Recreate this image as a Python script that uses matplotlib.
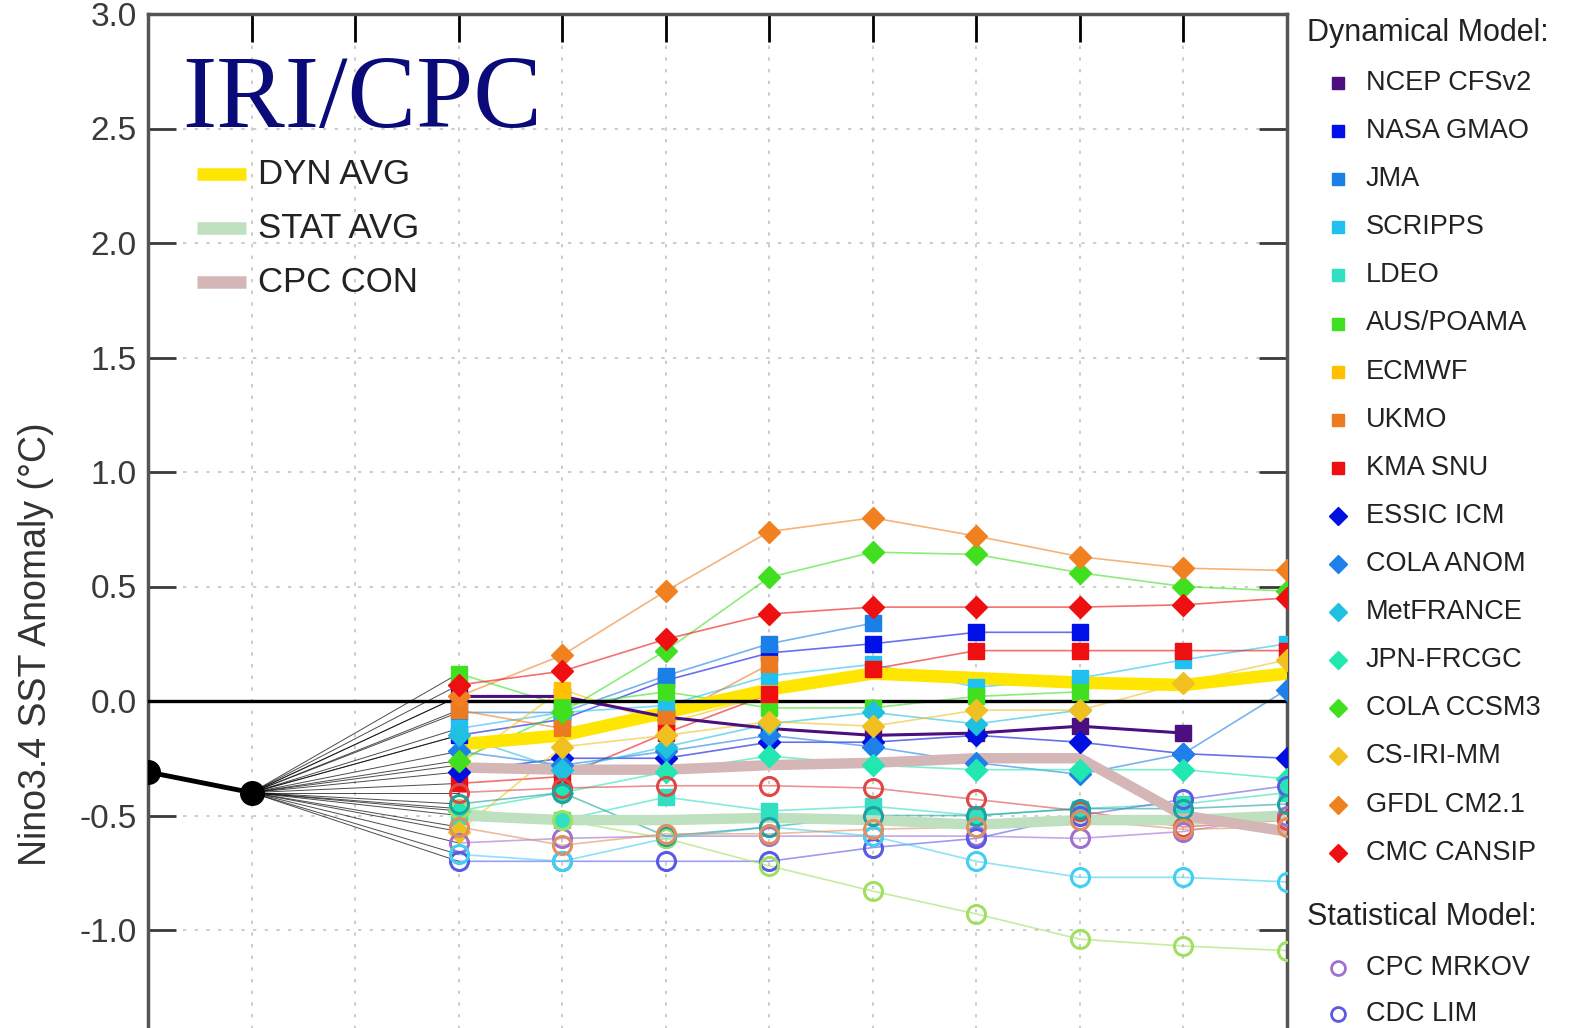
import numpy as np
import matplotlib.pyplot as plt
from matplotlib.lines import Line2D

plt.rcParams['font.family'] = ['Liberation Sans', 'DejaVu Sans']
plt.rcParams['axes.unicode_minus'] = False

# observed values (two seasons before the forecast starts)
obs_x = [0, 1]
obs_y = [-0.31, -0.40]

# forecast seasons, x positions 3..11
fc_x = [3, 4, 5, 6, 7, 8, 9, 10, 11]

# dynamical models: name, colour, marker, values (None = no forecast)
dyn_names = ['NCEP CFSv2', 'NASA GMAO', 'JMA', 'SCRIPPS', 'LDEO', 'AUS/POAMA',
             'ECMWF', 'UKMO', 'KMA SNU', 'ESSIC ICM', 'COLA ANOM', 'MetFRANCE',
             'JPN-FRCGC', 'COLA CCSM3', 'CS-IRI-MM', 'GFDL CM2.1', 'CMC CANSIP']
dyn_colors = ['#4b0f80', '#0010e8', '#1a7fe6', '#20c0f0', '#30e0c0', '#40e020',
              '#ffc000', '#ec7a20', '#ee1010', '#0010e0', '#1e80e8', '#20c0e0',
              '#20e8b0', '#40e020', '#f0c020', '#f08020', '#ee1010']
dyn_markers = ['s'] * 9 + ['D'] * 8
ncep = [0.02, 0.02, -0.07, -0.12, -0.15, -0.14, -0.11, -0.14, None]
nasa = [-0.15, -0.08, 0.09, 0.21, 0.25, 0.30, 0.30, None, None]
jma = [-0.05, -0.05, 0.11, 0.25, 0.34, None, None, None, None]
scripps = [-0.12, -0.05, -0.02, 0.11, 0.16, 0.06, 0.10, 0.18, 0.25]
ldeo = [-0.50, -0.52, -0.42, -0.48, -0.46, -0.50, -0.47, -0.45, -0.40]
aus = [0.12, -0.02, 0.04, -0.03, -0.03, 0.02, 0.04, None, None]
ecmwf = [-0.28, 0.05, -0.10, 0.03, None, None, None, None, None]
ukmo = [-0.04, -0.12, -0.08, 0.16, None, None, None, None, None]
kma = [-0.36, -0.33, -0.14, 0.03, 0.14, 0.22, 0.22, 0.22, 0.22]
essic = [-0.31, -0.25, -0.25, -0.18, -0.18, -0.15, -0.18, -0.23, -0.25]
cola_anom = [-0.22, -0.28, -0.22, -0.15, -0.20, -0.27, -0.32, -0.23, 0.05]
metfrance = [-0.15, -0.30, -0.20, -0.10, -0.05, -0.10, -0.04, None, None]
jpn = [-0.48, -0.40, -0.31, -0.24, -0.28, -0.30, -0.30, -0.30, -0.34]
cola_ccsm3 = [-0.26, -0.05, 0.22, 0.54, 0.65, 0.64, 0.56, 0.50, 0.48]
cs_iri = [-0.57, -0.20, -0.15, -0.09, -0.11, -0.04, -0.04, 0.08, 0.18]
gfdl = [0.02, 0.20, 0.48, 0.74, 0.80, 0.72, 0.63, 0.58, 0.57]
cmc = [0.07, 0.13, 0.27, 0.38, 0.41, 0.41, 0.41, 0.42, 0.45]
dyn_values = [ncep, nasa, jma, scripps, ldeo, aus, ecmwf, ukmo, kma, essic,
              cola_anom, metfrance, jpn, cola_ccsm3, cs_iri, gfdl, cmc]

# statistical models (open circles)
stat_names = ['CPC MRKOV', 'CDC LIM', 'CPC CA', 'CSU CLIPR', 'UBC NNET', 'FSU REGR', 'UCLA-TCD']
stat_colors = ['#a070d0', '#5a5ae6', '#40d0f0', '#a0e060', '#e04848', '#20a0a0', '#e09060']
cpc_mrkov = [-0.62, -0.60, -0.59, -0.59, -0.59, -0.59, -0.60, -0.57, -0.50]
cdc_lim = [-0.70, -0.70, -0.70, -0.70, -0.64, -0.60, -0.50, -0.43, -0.37]
cpc_ca = [-0.67, -0.70, -0.60, -0.55, -0.59, -0.70, -0.77, -0.77, -0.79]
csu_clipr = [-0.47, -0.52, -0.60, -0.72, -0.83, -0.93, -1.04, -1.07, -1.09]
ubc_nnet = [-0.40, -0.38, -0.37, -0.37, -0.38, -0.43, -0.48, -0.55, -0.52]
fsu_regr = [-0.45, -0.40, -0.59, -0.55, -0.50, -0.50, -0.47, -0.47, -0.45]
ucla_tcd = [-0.55, -0.63, -0.58, -0.58, -0.56, -0.55, -0.52, -0.56, -0.55]
stat_values = [cpc_mrkov, cdc_lim, cpc_ca, csu_clipr, ubc_nnet, fsu_regr, ucla_tcd]

# averages
dyn_avg = [-0.19, -0.15, -0.05, 0.05, 0.12, 0.10, 0.08, 0.07, 0.12]
stat_avg = [-0.50, -0.52, -0.52, -0.51, -0.52, -0.54, -0.52, -0.52, -0.50]
cpc_con = [-0.29, -0.30, -0.30, -0.28, -0.27, -0.25, -0.25, -0.50, -0.57]
avg_names = ['DYN AVG', 'STAT AVG', 'CPC CON']
avg_colors = ['#ffe600', '#bfe0bf', '#d4b6b6']
avg_widths = [9, 7.5, 7.5]
avg_values = [dyn_avg, stat_avg, cpc_con]

yticks = [-2.0, -1.5, -1.0, -0.5, 0.0, 0.5, 1.0, 1.5, 2.0, 2.5, 3.0]
ytick_labels = ['', '', '-1.0', '-0.5', '0.0', '0.5', '1.0', '1.5', '2.0', '2.5', '3.0']

W, H = 1589, 1028
fig = plt.figure(figsize=(W / 100, H / 100), dpi=100)

# axes run past the bottom of the picture (the reference is cropped)
ax_left, ax_right, ax_top = 148, 1287, 14
px_per_unit = 229
ax_h = 5 * px_per_unit
ax = fig.add_axes([ax_left / W, 1 - (ax_top + ax_h) / H, (ax_right - ax_left) / W, ax_h / H])
ax.set_xlim(0, 11)
ax.set_ylim(-2.0, 3.0)


def as_arr(vals):
    return np.array([np.nan if v is None else v for v in vals], dtype=float)


# grid
for gx in range(1, 11):
    ax.axvline(gx, color='#c4c4c4', lw=1.2, ls=(0, (2, 5)), zorder=0)
for gy in yticks:
    ax.axhline(gy, color='#c4c4c4', lw=1.2, ls=(0, (2, 5)), zorder=0)

# fan of thin black lines from last observation to first forecast
for vals in dyn_values + stat_values:
    ax.plot([obs_x[-1], fc_x[0]], [obs_y[-1], vals[0]], color='black', lw=0.7, alpha=0.7, zorder=1)

# thin model lines
for vals, col in zip(dyn_values + stat_values, dyn_colors + stat_colors):
    ax.plot(fc_x, as_arr(vals), color=col, lw=1.2, alpha=0.6, zorder=2)

# thick averages
for vals, col, w in zip(avg_values, avg_colors, avg_widths):
    ax.plot(fc_x, vals, color=col, lw=w, solid_capstyle='butt', zorder=3)

# NCEP line drawn a bit heavier as in the reference
ax.plot(fc_x, as_arr(ncep), color=dyn_colors[0], lw=2.2, zorder=3.5)

ax.axhline(0, color='black', lw=2.4, zorder=3.6)

# markers
for vals, col, mk in zip(dyn_values, dyn_colors, dyn_markers):
    ax.plot(fc_x, as_arr(vals), ls='none', marker=mk, color=col,
            ms=12 if mk == 's' else 11, mec=col, zorder=4)
for vals, col in zip(stat_values, stat_colors):
    ax.plot(fc_x, as_arr(vals), ls='none', marker='o', mfc='none', mec=col,
            ms=13, mew=2.2, zorder=4)

# observations
ax.plot(obs_x, obs_y, color='black', lw=3.5, marker='o', ms=17, zorder=5)

# ticks and spines
ax.set_yticks(yticks)
ax.set_yticklabels(ytick_labels)
ax.set_xticks(range(0, 12))
ax.set_xticklabels([])
ax.tick_params(axis='y', direction='in', length=20, width=2, left=True, right=True,
               labelsize=24, pad=8, colors='#3a3a3a')
ax.tick_params(axis='x', direction='in', length=20, width=2, top=True, bottom=False)
for sp in ax.spines.values():
    sp.set_color('#555555')
    sp.set_linewidth(2.5)

# IRI/CPC title
ax.text(182 / W, 1 - 127 / H, 'IRI/CPC', transform=fig.transFigure, family='Liberation Serif',
        fontsize=74, color='#0a0a78', va='baseline', ha='left', zorder=6)

# left legend for the averages
for i, (name, col) in enumerate(zip(avg_names, avg_colors)):
    yy = 1 - (174 + i * 54) / H
    fig.add_artist(Line2D([197 / W, 246 / W], [yy, yy], color=col, lw=9, solid_capstyle='butt'))
    fig.text(258 / W, yy, name, fontsize=25, va='center', ha='left', color='#222222')

# y label
fig.text(36 / W, 1 - 644 / H, 'Nino3.4 SST Anomaly (°C)', rotation=90, fontsize=27,
         va='center', ha='center', color='#333333')

# right legend
fig.text(1307 / W, 1 - 33 / H, 'Dynamical Model:', fontsize=22, va='center', ha='left', color='#222222')
for i, (name, col, mk) in enumerate(zip(dyn_names, dyn_colors, dyn_markers)):
    yy = 1 - (83 + i * 48.1) / H
    fig.add_artist(Line2D([1338 / W], [yy], marker=mk, color=col, ls='none', ms=9))
    fig.text(1366 / W, yy, name, fontsize=19.5, va='center', ha='left', color='#222222')
fig.text(1307 / W, 1 - 917 / H, 'Statistical Model:', fontsize=22, va='center', ha='left', color='#222222')
for i, (name, col) in enumerate(zip(stat_names[:2], stat_colors[:2])):
    yy = 1 - (968 + i * 46) / H
    fig.add_artist(Line2D([1338 / W], [yy], marker='o', mfc='none', mec=col, mew=2, ls='none', ms=10))
    fig.text(1366 / W, yy, name, fontsize=19.5, va='center', ha='left', color='#222222')

fig.savefig('out.png', dpi=100)
